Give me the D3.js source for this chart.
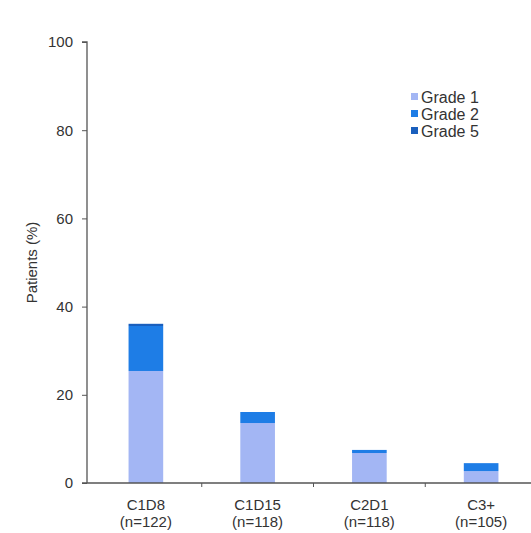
<!DOCTYPE html>
<html>
<head>
<meta charset="utf-8">
<script src="https://cdn.jsdelivr.net/npm/d3@7"></script>
<style>
  body { margin: 0; background: #fff; }
  text { font-family: "Liberation Sans", Arial, sans-serif; fill: #333; }
</style>
</head>
<body>
<div id="chart"></div>
<script>
// Categories and their sample sizes
const categories = ["C1D8", "C1D15", "C2D1", "C3+"];
const sampleSizes = ["(n=122)", "(n=118)", "(n=118)", "(n=105)"];

// Percent of patients per grade
const grade1 = [25.4, 13.6, 6.8, 2.7];
const grade2 = [10.2, 2.5, 0.7, 1.8];
const grade5 = [0.5, 0, 0, 0];

const grades = ["Grade 1", "Grade 2", "Grade 5"];
const yTicks = [0, 20, 40, 60, 80, 100];

var width = 531;
var height = 533;
var margin = {top: 42, right: -6, bottom: 50, left: 87};

var colors = {"Grade 1": "#a3b6f4", "Grade 2": "#1e7de6", "Grade 5": "#1a5fbd"};

var rows = categories.map(function(c, i) {
  return {cat: c, "Grade 1": grade1[i], "Grade 2": grade2[i], "Grade 5": grade5[i]};
});

var svg = d3.select("#chart").append("svg")
  .attr("width", width)
  .attr("height", height);

var x = d3.scaleBand()
  .domain(categories)
  .range([margin.left + 3, width - margin.right])
  .paddingInner(0.69)
  .paddingOuter(0.345);

var y = d3.scaleLinear()
  .domain([0, 100])
  .range([height - margin.bottom, margin.top]);

// stacked bars
var stack = d3.stack().keys(grades);
svg.append("g").selectAll("g")
  .data(stack(rows))
  .enter().append("g")
  .attr("fill", function(d) { return colors[d.key]; })
  .selectAll("rect")
  .data(function(d) { return d; })
  .enter().append("rect")
  .attr("x", function(d) { return x(d.data.cat); })
  .attr("width", x.bandwidth())
  .attr("y", function(d) { return y(d[1]); })
  .attr("height", function(d) { return y(d[0]) - y(d[1]); });

// y axis
var yAxis = svg.append("g")
  .attr("transform", "translate(" + margin.left + ",0)")
  .call(d3.axisLeft(y).tickValues(yTicks).tickSize(5).tickPadding(9));
yAxis.select(".domain").attr("stroke", "#555").attr("stroke-width", 1.3).attr("d", "M-5," + y(100) + "H0V" + y(0));
yAxis.selectAll(".tick line").attr("stroke", "#555");
yAxis.selectAll(".tick text").style("font-size", "15px").style("fill", "#333");

// x axis line with ticks at band boundaries
var xAxisG = svg.append("g");
xAxisG.append("line")
  .attr("x1", margin.left - 5).attr("x2", width)
  .attr("y1", y(0)).attr("y2", y(0))
  .attr("stroke", "#555").attr("stroke-width", 1.3);
var step = x.step();
xAxisG.selectAll(".xt")
  .data(categories.slice(1))
  .enter().append("line")
  .attr("x1", function(d) { return x(d) - step * x.paddingInner() / 2; })
  .attr("x2", function(d) { return x(d) - step * x.paddingInner() / 2; })
  .attr("y1", y(0)).attr("y2", y(0) + 4)
  .attr("stroke", "#555");

// category labels
svg.append("g").selectAll("text")
  .data(categories)
  .enter().append("text")
  .attr("x", function(d) { return x(d) + x.bandwidth() / 2; })
  .attr("y", y(0) + 27)
  .attr("text-anchor", "middle")
  .style("font-size", "15px")
  .text(function(d) { return d; });
svg.append("g").selectAll("text")
  .data(sampleSizes)
  .enter().append("text")
  .attr("x", function(d, i) { return x(categories[i]) + x.bandwidth() / 2; })
  .attr("y", y(0) + 44)
  .attr("text-anchor", "middle")
  .style("font-size", "15px")
  .text(function(d) { return d; });

// y title
svg.append("text")
  .attr("transform", "translate(37," + ((y(0) + y(100)) / 2) + ") rotate(-90)")
  .attr("text-anchor", "middle")
  .style("font-size", "15px")
  .text("Patients (%)");

// legend
var legend = svg.append("g").attr("transform", "translate(411,97)");
var item = legend.selectAll("g")
  .data(grades)
  .enter().append("g")
  .attr("transform", function(d, i) { return "translate(0," + (i * 17) + ")"; });
item.append("rect")
  .attr("x", 0).attr("y", -4).attr("width", 7).attr("height", 7)
  .attr("fill", function(d) { return colors[d]; });
item.append("text")
  .attr("x", 10).attr("y", 6)
  .style("font-size", "16px")
  .text(function(d) { return d; });
</script>
</body>
</html>
